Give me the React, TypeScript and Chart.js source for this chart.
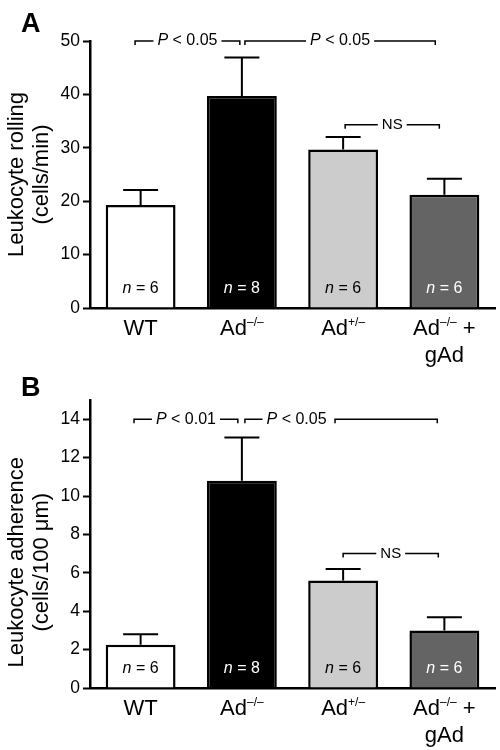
import React, { useEffect, useRef } from "react";
import { Chart, registerables } from "chart.js";

Chart.register(...registerables);

const FONT = "'Liberation Sans', Arial, Helvetica, sans-serif";

// Categories (x axis)
const categories = ["WT", "Ad-/-", "Ad+/-", "Ad-/- + gAd"];
const groupBase = ["WT", "Ad", "Ad", "Ad"];
const groupSup = ["", "–/–", "+/–", "–/–"];
const groupSuffix = ["", "", "", " +"];
const groupLine2 = ["", "", "", "gAd"];

const nPerGroup = [6, 8, 6, 6];
const barFill = ["#ffffff", "#000000", "#cccccc", "#646464"];
const nTextColor = ["#000000", "#ffffff", "#000000", "#ffffff"];

// Panel A: leukocyte rolling (cells/min)
const rollingMean = [19.3, 39.7, 29.7, 21.2];
const rollingSem = [2.8, 7.2, 2.3, 3.0];
const rollingTicks = [0, 10, 20, 30, 40, 50];
const rollingTitle = ["Leukocyte rolling", "(cells/min)"];

// Panel B: leukocyte adherence (cells/100 μm)
const adherenceMean = [2.25, 10.8, 5.6, 3.0];
const adherenceSem = [0.55, 2.25, 0.6, 0.68];
const adherenceTicks = [0, 2, 4, 6, 8, 10, 12, 14];
const adherenceTitle = ["Leukocyte adherence", "(cells/100 μm)"];

type Bracket = {
  from: number;
  to: number;
  y: number;
  italic: string;
  rest: string;
  labelAt?: number;
  midTick?: number;
};

const rollingBrackets: Bracket[] = [
  { from: -0.055, to: 0.98, y: 50, italic: "P", rest: " < 0.05" },
  { from: 1.03, to: 2.91, y: 50, italic: "P", rest: " < 0.05" },
  { from: 2.02, to: 2.95, y: 34.3, italic: "", rest: "NS" },
];

const adherenceBrackets: Bracket[] = [
  { from: -0.065, to: 0.96, y: 14, italic: "P", rest: " < 0.01" },
  { from: 1.03, to: 2.93, y: 14, italic: "P", rest: " < 0.05", labelAt: 1.54, midTick: 1.92 },
  { from: 2.0, to: 2.94, y: 7.0, italic: "", rest: "NS" },
];

type PanelCfg = {
  letter: string;
  letterBaseline: number;
  means: number[];
  sems: number[];
  ticks: number[];
  max: number;
  title: string[];
  titleCenterValue: number;
  brackets: Bracket[];
  padTop: number;
  xHeight: number;
};

type Run = { text: string; font: string; dy?: number };

function runsWidth(ctx: CanvasRenderingContext2D, runs: Run[]) {
  let w = 0;
  for (const r of runs) {
    ctx.font = r.font;
    w += ctx.measureText(r.text).width;
  }
  return w;
}

function drawRuns(ctx: CanvasRenderingContext2D, runs: Run[], left: number, cy: number) {
  let x = left;
  ctx.textAlign = "left";
  ctx.textBaseline = "middle";
  for (const r of runs) {
    ctx.font = r.font;
    ctx.fillText(r.text, x, cy + (r.dy || 0));
    x += ctx.measureText(r.text).width;
  }
  return x;
}

function makeDeco(cfg: PanelCfg) {
  return {
    id: "deco",
    afterDraw(chart: any) {
      const ctx: CanvasRenderingContext2D = chart.ctx;
      const xs = chart.scales.x;
      const ys = chart.scales.y;
      const area = chart.chartArea;
      ctx.save();
      ctx.fillStyle = "#000";
      ctx.strokeStyle = "#000";

      // error bars (upper only)
      ctx.lineWidth = 2;
      cfg.means.forEach((m, i) => {
        const cx = xs.getPixelForValue(i);
        const yTop = ys.getPixelForValue(m);
        const yErr = ys.getPixelForValue(m + cfg.sems[i]);
        ctx.beginPath();
        ctx.moveTo(cx, yTop);
        ctx.lineTo(cx, yErr);
        ctx.moveTo(cx - 17.5, yErr);
        ctx.lineTo(cx + 17.5, yErr);
        ctx.stroke();
      });

      // n labels inside bars
      nPerGroup.forEach((n, i) => {
        const cx = xs.getPixelForValue(i);
        const runs: Run[] = [
          { text: "n", font: `italic 16px ${FONT}` },
          { text: " = " + n, font: `16px ${FONT}` },
        ];
        const w = runsWidth(ctx, runs);
        ctx.fillStyle = nTextColor[i];
        drawRuns(ctx, runs, cx - w / 2, area.bottom - 19);
      });
      ctx.fillStyle = "#000";

      // x labels
      categories.forEach((_c, i) => {
        const cx = xs.getPixelForValue(i);
        const runs: Run[] = [
          { text: groupBase[i], font: `22px ${FONT}` },
          { text: groupSup[i], font: `12px ${FONT}`, dy: -6 },
          { text: groupSuffix[i], font: `22px ${FONT}` },
        ];
        const w = runsWidth(ctx, runs);
        drawRuns(ctx, runs, cx - w / 2, area.bottom + 21);
        if (groupLine2[i]) {
          ctx.font = `22px ${FONT}`;
          ctx.textAlign = "center";
          ctx.fillText(groupLine2[i], cx, area.bottom + 48);
        }
      });

      // brackets
      ctx.lineWidth = 1.5;
      cfg.brackets.forEach((b) => {
        const x1 = xs.getPixelForValue(b.from);
        const x2 = xs.getPixelForValue(b.to);
        const yy = ys.getPixelForValue(b.y);
        const runs: Run[] = [];
        const size = b.italic ? 16 : 15;
        if (b.italic) runs.push({ text: b.italic, font: `italic ${size}px ${FONT}` });
        runs.push({ text: b.rest, font: `${size}px ${FONT}` });
        const w = runsWidth(ctx, runs);
        const lc = b.labelAt !== undefined ? xs.getPixelForValue(b.labelAt) : (x1 + x2) / 2;
        const tl = lc - w / 2;
        const tr = lc + w / 2;
        const gap = 4;
        const tick = 4;
        ctx.beginPath();
        ctx.moveTo(x1, yy + tick);
        ctx.lineTo(x1, yy);
        ctx.lineTo(tl - gap, yy);
        const rStart = b.midTick !== undefined ? xs.getPixelForValue(b.midTick) : tr + gap;
        if (b.midTick !== undefined) {
          ctx.moveTo(rStart, yy + tick);
          ctx.lineTo(rStart, yy);
        } else {
          ctx.moveTo(rStart, yy);
        }
        ctx.lineTo(x2, yy);
        ctx.lineTo(x2, yy + tick);
        ctx.stroke();
        drawRuns(ctx, runs, tl, yy);
      });

      // y axis title (two lines, rotated)
      const tcy = ys.getPixelForValue(cfg.titleCenterValue);
      ctx.font = `22px ${FONT}`;
      ctx.textAlign = "center";
      ctx.textBaseline = "middle";
      const lineX = [17, 42];
      cfg.title.forEach((t, k) => {
        ctx.save();
        ctx.translate(lineX[k], tcy);
        ctx.rotate(-Math.PI / 2);
        ctx.fillText(t, 0, 0);
        ctx.restore();
      });

      // panel letter
      ctx.font = `bold 27px ${FONT}`;
      ctx.textAlign = "left";
      ctx.textBaseline = "alphabetic";
      ctx.fillText(cfg.letter, 21, cfg.letterBaseline);

      ctx.restore();
    },
  };
}

function Panel({ cfg }: { cfg: PanelCfg }) {
  const ref = useRef<HTMLCanvasElement | null>(null);
  useEffect(() => {
    if (!ref.current) return;
    const chart = new Chart(ref.current, {
      type: "bar",
      data: {
        labels: categories,
        datasets: [
          {
            data: cfg.means,
            backgroundColor: barFill,
            borderColor: "#000000",
            borderWidth: 2.5,
            barPercentage: 0.69,
            categoryPercentage: 1,
          },
        ],
      },
      options: {
        responsive: false,
        animation: false,
        layout: { padding: { top: cfg.padTop, right: 5, left: 0, bottom: 0 } },
        plugins: {
          legend: { display: false },
          tooltip: { enabled: false },
          title: { display: false },
        },
        scales: {
          x: {
            type: "category",
            offset: true,
            grid: { display: false },
            border: { display: true, color: "#000", width: 2.5 },
            ticks: { display: false },
            afterFit: (s: any) => {
              s.height = cfg.xHeight;
            },
          },
          y: {
            min: 0,
            max: cfg.max,
            grid: {
              display: true,
              drawOnChartArea: false,
              drawTicks: true,
              tickLength: 7,
              tickWidth: 2,
              tickColor: "#000",
              color: "#000",
            },
            border: { display: true, color: "#000", width: 2.5 },
            ticks: { font: { size: 17.5, family: FONT }, color: "#000", padding: 3 },
            afterBuildTicks: (s: any) => {
              s.ticks = cfg.ticks.map((v) => ({ value: v }));
            },
            afterFit: (s: any) => {
              s.width = 90;
            },
          },
        },
      } as any,
      plugins: [makeDeco(cfg)],
    });
    return () => chart.destroy();
  }, [cfg]);
  return <canvas ref={ref} width={500} height={375} style={{ display: "block" }} />;
}

const panelA: PanelCfg = {
  letter: "A",
  letterBaseline: 32,
  means: rollingMean,
  sems: rollingSem,
  ticks: rollingTicks,
  max: 50,
  title: rollingTitle,
  titleCenterValue: 25,
  brackets: rollingBrackets,
  padTop: 41,
  xHeight: 67,
};

const panelB: PanelCfg = {
  letter: "B",
  letterBaseline: 21,
  means: adherenceMean,
  sems: adherenceSem,
  ticks: adherenceTicks,
  max: 15,
  title: adherenceTitle,
  titleCenterValue: 6.55,
  brackets: adherenceBrackets,
  padTop: 25,
  xHeight: 62,
};

export default function App() {
  return (
    <div style={{ position: "absolute", left: 0, top: 0, width: 500, height: 750, background: "#fff" }}>
      <Panel cfg={panelA} />
      <Panel cfg={panelB} />
    </div>
  );
}
